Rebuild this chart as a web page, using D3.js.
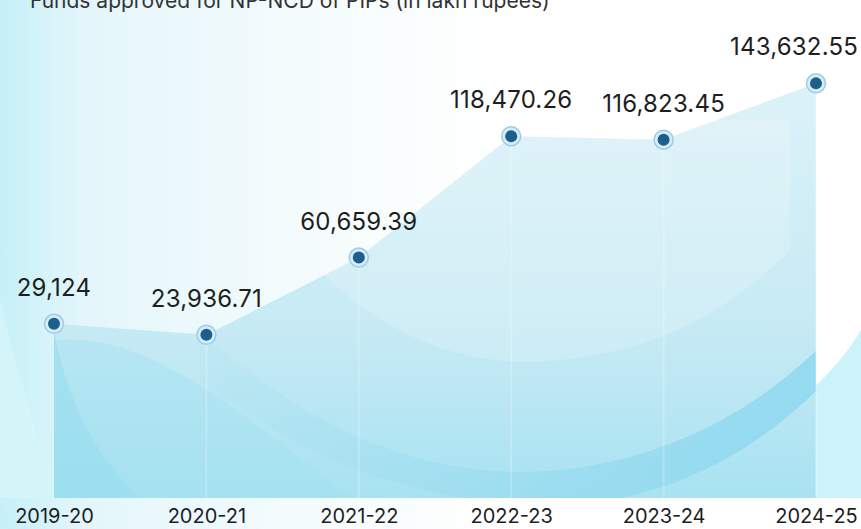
<!DOCTYPE html>
<html>
<head>
<meta charset="utf-8">
<script src="https://cdn.jsdelivr.net/npm/d3@7"></script>
<style>
  html, body { margin: 0; padding: 0; background: #ffffff; }
  svg { display: block; }
</style>
</head>
<body>
<div id="chart"></div>
<script>
// ---- data ----
const title = "Funds approved for NP-NCD of PIPs (in lakh rupees)";
const years = ["2019-20", "2020-21", "2021-22", "2022-23", "2023-24", "2024-25"];
const funds = [29124, 23936.71, 60659.39, 118470.26, 116823.45, 143632.55];
const fundLabels = ["29,124", "23,936.71", "60,659.39", "118,470.26", "116,823.45", "143,632.55"];

const W = 861, H = 529;
const baseY = 498;
const FONT = "Inter, 'Noto Sans', sans-serif";

const svg = d3.select("#chart").append("svg")
  .attr("width", W).attr("height", H);

const defs = svg.append("defs");

// background gradients (decoration)
const bgLeft = defs.append("linearGradient").attr("id", "bgLeft")
  .attr("x1", 0).attr("y1", 0).attr("x2", 1).attr("y2", 0);
bgLeft.append("stop").attr("offset", "0%").attr("stop-color", "#c6f0f8");
bgLeft.append("stop").attr("offset", "10%").attr("stop-color", "#e4f6fb");
bgLeft.append("stop").attr("offset", "38%").attr("stop-color", "#f6fcfd");
bgLeft.append("stop").attr("offset", "58%").attr("stop-color", "#ffffff");

const areaGrad = defs.append("linearGradient").attr("id", "areaGrad")
  .attr("x1", 0).attr("y1", 0).attr("x2", 0).attr("y2", 1);
areaGrad.append("stop").attr("offset", "0%").attr("stop-color", "#dcf2f8");
areaGrad.append("stop").attr("offset", "60%").attr("stop-color", "#c6eaf4");
areaGrad.append("stop").attr("offset", "100%").attr("stop-color", "#a8e2f1");

const bandGrad = defs.append("linearGradient").attr("id", "bandGrad")
  .attr("x1", 0).attr("y1", 0).attr("x2", 1).attr("y2", 0);
bandGrad.append("stop").attr("offset", "0%").attr("stop-color", "#9fdcef").attr("stop-opacity", 0.1);
bandGrad.append("stop").attr("offset", "55%").attr("stop-color", "#8fd8ef").attr("stop-opacity", 0.55);
bandGrad.append("stop").attr("offset", "100%").attr("stop-color", "#7fd3ef").attr("stop-opacity", 0.7);

svg.append("rect").attr("width", W).attr("height", H).attr("fill", "url(#bgLeft)");

// decorative swirl, bottom-right beyond the area
svg.append("path")
  .attr("d", "M 600 498 C 720 470, 820 400, 861 330 L 861 498 Z")
  .attr("fill", "#bff0f8").attr("opacity", 0.8);
// decorative swirl on the left
svg.append("path")
  .attr("d", "M 0 300 C 20 380, 40 450, 60 498 L 0 498 Z")
  .attr("fill", "#d4f5fa").attr("opacity", 0.9);

// ---- scales ----
const x = d3.scalePoint().domain(years).range([54, 816]);
const y = d3.scaleLinear().domain([0, 150000]).range([385, 70]);

const pts = years.map((yr, i) => ({ year: yr, value: funds[i], label: fundLabels[i] }));

const area = d3.area()
  .x(d => x(d.year))
  .y0(baseY)
  .y1(d => y(d.value));

// clip for area decorations
defs.append("clipPath").attr("id", "areaClip")
  .append("path")
  .attr("d", area(pts));

svg.append("path")
  .datum(pts)
  .attr("d", area)
  .attr("fill", "url(#areaGrad)");

// decorative bands inside the area
const deco = svg.append("g").attr("clip-path", "url(#areaClip)");
deco.append("path")
  .attr("d", "M 54 330 C 70 420, 110 470, 140 498 L 54 498 Z")
  .attr("fill", "#8fdcef").attr("opacity", 0.55);
deco.append("path")
  .attr("d", "M 54 340 C 150 330, 250 420, 350 498 L 54 498 Z")
  .attr("fill", "#9de0f1").attr("opacity", 0.35);
deco.append("path")
  .attr("d", "M 200 330 C 330 450, 450 480, 560 470 C 700 455, 800 380, 861 300 L 861 340 C 800 420, 700 500, 560 505 C 430 505, 320 470, 200 380 Z")
  .attr("fill", "url(#bandGrad)");
deco.append("path")
  .attr("d", "M 300 250 C 380 340, 470 370, 560 360 C 650 350, 720 320, 790 250 L 790 120 L 300 120 Z")
  .attr("fill", "#ffffff").attr("opacity", 0.18);

// vertical stripes under each point
svg.append("g").selectAll("line")
  .data(pts.slice(1))
  .join("line")
  .attr("x1", d => x(d.year)).attr("x2", d => x(d.year))
  .attr("y1", d => y(d.value) + 8).attr("y2", baseY)
  .attr("stroke", "#ffffff").attr("stroke-opacity", 0.22).attr("stroke-width", 2);

// markers
const mk = svg.append("g").selectAll("g")
  .data(pts)
  .join("g")
  .attr("transform", d => `translate(${x(d.year)},${y(d.value)})`);
mk.append("circle").attr("r", 9.5)
  .attr("fill", "#d6ecf7").attr("stroke", "#9fcbe6").attr("stroke-width", 1.5);
mk.append("circle").attr("r", 6).attr("fill", "#1d5f8c");

// value labels
svg.append("g").selectAll("text")
  .data(pts)
  .join("text")
  .attr("x", d => x(d.year))
  .attr("y", d => y(d.value) - 28)
  .attr("text-anchor", "middle")
  .attr("font-family", FONT)
  .attr("font-size", 24)
  .attr("letter-spacing", 0.2)
  .attr("fill", "#1e1e1e")
  .text(d => d.label)
  .each(function() {
    const bb = this.getBBox();
    if (bb.x + bb.width > W - 3) {
      d3.select(this).attr("x", +d3.select(this).attr("x") - (bb.x + bb.width - (W - 3)));
    }
  });

// x axis labels
const xAxis = d3.axisBottom(x).tickSize(0).tickPadding(0);
const gx = svg.append("g").attr("transform", `translate(0,${baseY})`).call(xAxis);
gx.select(".domain").remove();
gx.selectAll("text")
  .attr("dy", 0)
  .attr("y", 25)
  .attr("font-family", FONT)
  .attr("font-size", 20)
  .attr("fill", "#1e1e1e")
  .each(function() {
    const bb = this.getBBox();
    if (bb.x + bb.width > W - 2) {
      d3.select(this).attr("x", -(bb.x + bb.width - (W - 2)));
    }
  });

// title (partially cut at top, as in the original)
svg.append("text")
  .attr("x", 30).attr("y", 8)
  .attr("font-family", FONT)
  .attr("font-size", 21)
  .attr("fill", "#333333")
  .text(title);
</script>
</body>
</html>
